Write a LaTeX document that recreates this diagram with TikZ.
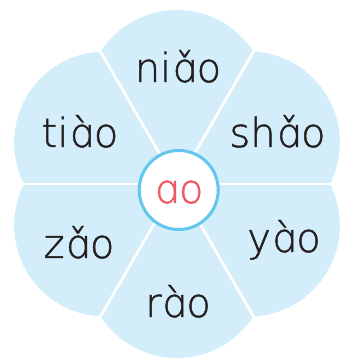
\documentclass[tikz,border=0pt]{standalone}
\usepackage{fontspec}
\usetikzlibrary{calc}
\newfontfamily\pyfont{DejaVu Sans ExtraLight}[FakeBold=1.2]
\definecolor{petal}{HTML}{D3EEFA}
\definecolor{ring}{HTML}{62C6EE}
\definecolor{aored}{HTML}{EE5A63}
\definecolor{ink}{HTML}{231F20}
\begin{document}
\begin{tikzpicture}[x=1pt,y=1pt,
  py/.style={font=\pyfont\fontsize{40}{48}\selectfont, text=ink, anchor=base, inner sep=0pt},
  sepline/.style={draw=white, line width=2.7pt},
  petalfill/.style={fill=petal}]
\useasboundingbox (0,0) rectangle (344,359);
\coordinate (c) at (177,175);
\foreach \a in {90,30,-30,-90,-150,150} \fill[petalfill] (c) ++(\a:83) circle[radius=91];
\foreach \a [count=\i] in {0,60,...,300} {
  \coordinate (n\i) at ($(c)+(\a:160)$);
  \draw[sepline] (c) -- (n\i);
}
\node[circle, draw=ring, line width=3pt, fill=white, minimum size=79pt, inner sep=0pt] (ctr) at (178.7,169) {};
\node[py, text=aored] (ao) at (178.5,156) {ɑo};
\node[py] (w1) at (178,277) {niɑ̌o};
\node[py] (w2) at (277.5,212) {shɑ̌o};
\node[py] (w3) at (80,212) {tiɑ̀o};
\node[py] (w4) at (79,101) {zɑ̌o};
\node[py] (w5) at (284,107) {yɑ̀o};
\node[py] (w6) at (178,42) {rɑ̀o};
\end{tikzpicture}
\end{document}
